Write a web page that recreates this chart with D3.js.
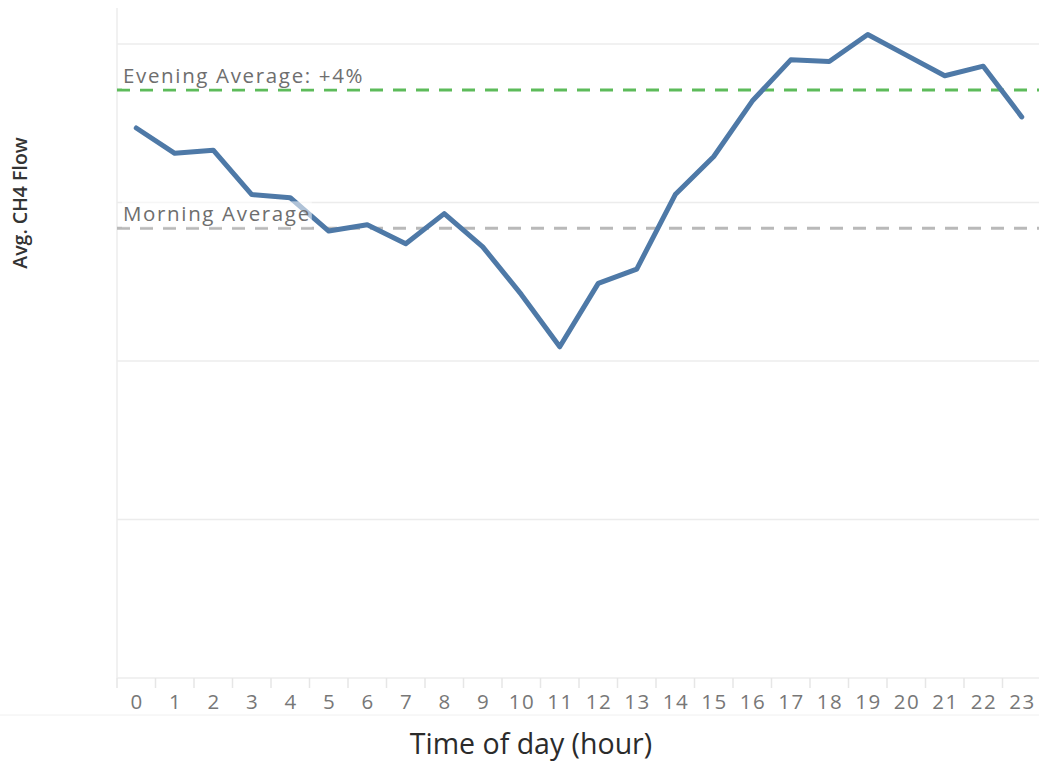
<!DOCTYPE html>
<html>
<head>
<meta charset="utf-8">
<script src="https://cdn.jsdelivr.net/npm/d3@7"></script>
<style>
  html, body { margin: 0; padding: 0; background: #fff; }
  svg { display: block; }
</style>
</head>
<body>
<svg id="chart" width="1039" height="763"></svg>
<script>
// Hours of the day and the average CH4 flow for each hour
const hours = d3.range(0, 24).map(String);
const flow = [22.47, 22.31, 22.33, 22.05, 22.03, 21.82, 21.86, 21.74, 21.93, 21.72,
              21.42, 21.09, 21.49, 21.58, 22.05, 22.29, 22.64, 22.90, 22.89, 23.06,
              22.93, 22.80, 22.86, 22.54];
const gridValues = [19, 20, 21, 22, 23];
const morningAverage = 21.837;
const eveningChange = 0.04;          // evening average relative to morning
const eveningAverage = morningAverage * (1 + eveningChange);

const svg = d3.select("#chart");
const W = 1039, H = 763;
const plot = { left: 117, right: 1041, top: 8, bottom: 678 };
const font = "'Open Sans', 'Noto Sans', sans-serif";

const x = d3.scaleBand().domain(hours).range([plot.left, plot.right]).padding(0);
const y = d3.scaleLinear().domain([19, 23 + 36 / 158.5]).range([plot.bottom, plot.top]);
const cx = h => x(h) + x.bandwidth() / 2;

// Horizontal gridlines
svg.append("g")
  .selectAll("line")
  .data(gridValues)
  .join("line")
  .attr("x1", plot.left).attr("x2", W)
  .attr("y1", d => y(d)).attr("y2", d => y(d))
  .attr("stroke", "#ececec")
  .attr("stroke-width", 1.5);

// Left axis rule
svg.append("line")
  .attr("x1", plot.left).attr("x2", plot.left)
  .attr("y1", plot.top).attr("y2", plot.bottom)
  .attr("stroke", "#ececec").attr("stroke-width", 1.5);

// Bottom axis with ticks between the hour bands
const xAxis = svg.append("g")
  .attr("transform", `translate(0,${plot.bottom})`)
  .call(d3.axisBottom(x).tickSize(0).tickPadding(16));
xAxis.select(".domain").remove();
xAxis.selectAll("text")
  .attr("font-family", font)
  .attr("font-size", 20.5)
  .attr("letter-spacing", 1.6)
  .attr("dx", 0.8)
  .attr("fill", "#777");
xAxis.selectAll(".sep")
  .data(hours.concat(["end"]))
  .join("line")
  .attr("class", "sep")
  .attr("x1", (d, i) => plot.left + i * x.step())
  .attr("x2", (d, i) => plot.left + i * x.step())
  .attr("y1", 0).attr("y2", 10)
  .attr("stroke", "#e6e6e6").attr("stroke-width", 1.5);

// Faint rule under the hour labels
svg.append("line")
  .attr("x1", 0).attr("x2", W)
  .attr("y1", 715).attr("y2", 715)
  .attr("stroke", "#f0f0f0").attr("stroke-width", 1);

// Reference lines
const refLines = [
  { value: eveningAverage, color: "#5dbb5a" },
  { value: morningAverage, color: "#b9b9b9" }
];
svg.append("g")
  .selectAll("line")
  .data(refLines)
  .join("line")
  .attr("x1", plot.left).attr("x2", W)
  .attr("y1", d => y(d.value)).attr("y2", d => y(d.value))
  .attr("stroke", d => d.color)
  .attr("stroke-width", 3)
  .attr("stroke-dasharray", "13 10");

// The hourly flow line
const line = d3.line()
  .x((d, i) => cx(hours[i]))
  .y(d => y(d));
svg.append("path")
  .datum(flow)
  .attr("d", line)
  .attr("fill", "none")
  .attr("stroke", "#4e79a7")
  .attr("stroke-width", 5)
  .attr("stroke-linejoin", "round")
  .attr("stroke-linecap", "round");

// Reference line labels on a translucent backing
const labels = [
  { text: "Evening Average: +" + Math.round(eveningChange * 100) + "%", value: eveningAverage },
  { text: "Morning Average", value: morningAverage }
];
labels.forEach(l => {
  const g = svg.append("g");
  const t = g.append("text")
    .attr("x", 123)
    .attr("y", y(l.value) - 7)
    .attr("font-family", font)
    .attr("font-size", 20.5)
    .attr("letter-spacing", 1.65)
    .attr("fill", "#6e6e6e")
    .text(l.text);
  const bb = t.node().getBBox();
  g.insert("rect", "text")
    .attr("x", bb.x - 1).attr("y", bb.y + 2)
    .attr("width", bb.width + 2).attr("height", bb.height - 2)
    .attr("fill", "#fff").attr("fill-opacity", 0.55);
});

// Axis titles
svg.append("text")
  .attr("x", 531).attr("y", 754)
  .attr("text-anchor", "middle")
  .attr("font-family", font)
  .attr("font-size", 28.5)
  .attr("fill", "#2b2b2b")
  .text("Time of day (hour)");

svg.append("text")
  .attr("transform", "translate(27,203) rotate(-90)")
  .attr("text-anchor", "middle")
  .attr("font-family", font)
  .attr("font-size", 19.5)
  .attr("font-weight", 600)
  .attr("fill", "#333")
  .text("Avg. CH4 Flow");
</script>
</body>
</html>
